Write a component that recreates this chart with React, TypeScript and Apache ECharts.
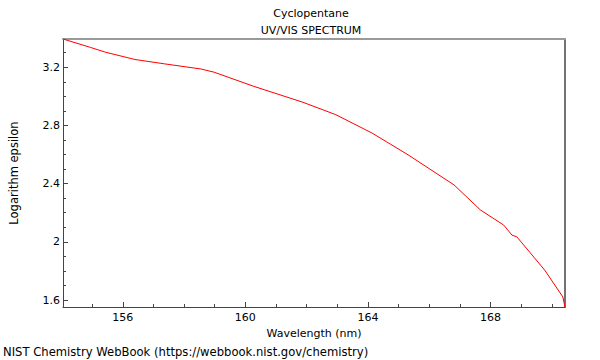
import React, { useEffect, useRef } from "react";
import * as echarts from "echarts";

const titleLines = ["Cyclopentane", "UV/VIS SPECTRUM"];
const xName = "Wavelength (nm)";
const yName = "Logarithm epsilon";
const footer = "NIST Chemistry WebBook (https://webbook.nist.gov/chemistry)";

const wavelength = [
  154.05, 154.95, 155.44, 156.4, 157.37, 158.55, 158.98, 160.27, 161.88,
  162.95, 164.13, 165.31, 166.81, 167.67, 168.43, 168.7, 168.86, 169.77,
  170.36, 170.43,
];
const logEps = [
  3.394, 3.336, 3.303, 3.253, 3.223, 3.188, 3.166, 3.069, 2.959, 2.874, 2.748,
  2.598, 2.391, 2.219, 2.115, 2.046, 2.034, 1.805, 1.621, 1.552,
];

const xMajor = [156, 160, 164, 168];
const xMinor = [155, 156, 157, 158, 159, 160, 161, 162, 163, 164, 165, 166, 167, 168, 169, 170];
const yMajor = [1.6, 2, 2.4, 2.8, 3.2];
const yMinor = [1.6, 1.7, 1.8, 1.9, 2, 2.1, 2.2, 2.3, 2.4, 2.5, 2.6, 2.7, 2.8, 2.9, 3, 3.1, 3.2, 3.3];

const X_MIN = 154.05;
const X_MAX = 170.43;
const Y_MIN = 1.552;
const Y_MAX = 3.394;

const FONT = "DejaVu Sans";

export default function App() {
  const ref = useRef<HTMLDivElement>(null);
  useEffect(() => {
    if (!ref.current) return;
    const chart = echarts.init(ref.current, null, { renderer: "svg" });
    const dark = "#444";
    const baseX = { type: "value", min: X_MIN, max: X_MAX, splitLine: { show: false } };
    const baseY = { type: "value", min: Y_MIN, max: Y_MAX, splitLine: { show: false } };
    chart.setOption({
      animation: false,
      textStyle: { fontFamily: FONT },
      grid: { left: 57, right: 35, top: 39, bottom: 53, containLabel: false },
      xAxis: [
        {
          ...baseX,
          position: "bottom",
          name: xName,
          nameLocation: "middle",
          nameGap: 19,
          nameTextStyle: { color: "#000", fontSize: 11, fontFamily: FONT },
          axisLine: { show: true, lineStyle: { color: dark, width: 1 } },
          axisTick: { show: true, inside: true, length: 5, customValues: xMajor, lineStyle: { color: dark } },
          axisLabel: { show: true, customValues: xMajor, margin: 5, color: "#000", fontSize: 11, fontFamily: FONT },
        },
        {
          ...baseX,
          position: "bottom",
          offset: 0,
          axisLine: { show: false },
          axisTick: { show: true, inside: true, length: 3, customValues: xMinor, lineStyle: { color: dark } },
          axisLabel: { show: false },
        },
        {
          ...baseX,
          position: "top",
          axisLine: { show: true, lineStyle: { color: "#9a9a9a", width: 2 } },
          axisTick: { show: false },
          axisLabel: { show: false },
        },
      ],
      yAxis: [
        {
          ...baseY,
          position: "left",
          name: yName,
          nameLocation: "middle",
          nameGap: 43,
          nameTextStyle: { color: "#000", fontSize: 11.5, fontFamily: FONT },
          axisLine: { show: true, lineStyle: { color: dark, width: 1 } },
          axisTick: { show: true, inside: true, length: 5, customValues: yMajor, lineStyle: { color: dark } },
          axisLabel: { show: true, customValues: yMajor, margin: 3, color: "#000", fontSize: 11, fontFamily: FONT },
        },
        {
          ...baseY,
          position: "left",
          offset: 0,
          axisLine: { show: false },
          axisTick: { show: true, inside: true, length: 3, customValues: yMinor, lineStyle: { color: dark } },
          axisLabel: { show: false },
        },
        {
          ...baseY,
          position: "right",
          axisLine: { show: true, lineStyle: { color: dark, width: 1.5 } },
          axisTick: { show: false },
          axisLabel: { show: false },
        },
      ],
      graphic: [
        {
          type: "text",
          x: 311,
          y: 13,
          style: { text: titleLines[0], fill: "#000", font: `11px "${FONT}"`, textAlign: "center", textVerticalAlign: "middle" },
        },
        {
          type: "text",
          x: 311,
          y: 30,
          style: { text: titleLines[1], fill: "#000", font: `11px "${FONT}"`, textAlign: "center", textVerticalAlign: "middle" },
        },
        {
          type: "text",
          x: 3,
          y: 352,
          style: { text: footer, fill: "#000", font: `11.6px "${FONT}"`, textAlign: "left", textVerticalAlign: "middle" },
        },
      ],
      series: [
        {
          type: "line",
          xAxisIndex: 0,
          yAxisIndex: 0,
          data: wavelength.map((x, i) => [x, logEps[i]]),
          showSymbol: false,
          symbol: "none",
          lineStyle: { color: "#ff0000", width: 1 },
          itemStyle: { color: "#ff0000" },
          clip: false,
        },
      ],
    });
    return () => chart.dispose();
  }, []);
  return <div ref={ref} style={{ width: 600, height: 360, position: "absolute", left: 0, top: 0 }} />;
}
